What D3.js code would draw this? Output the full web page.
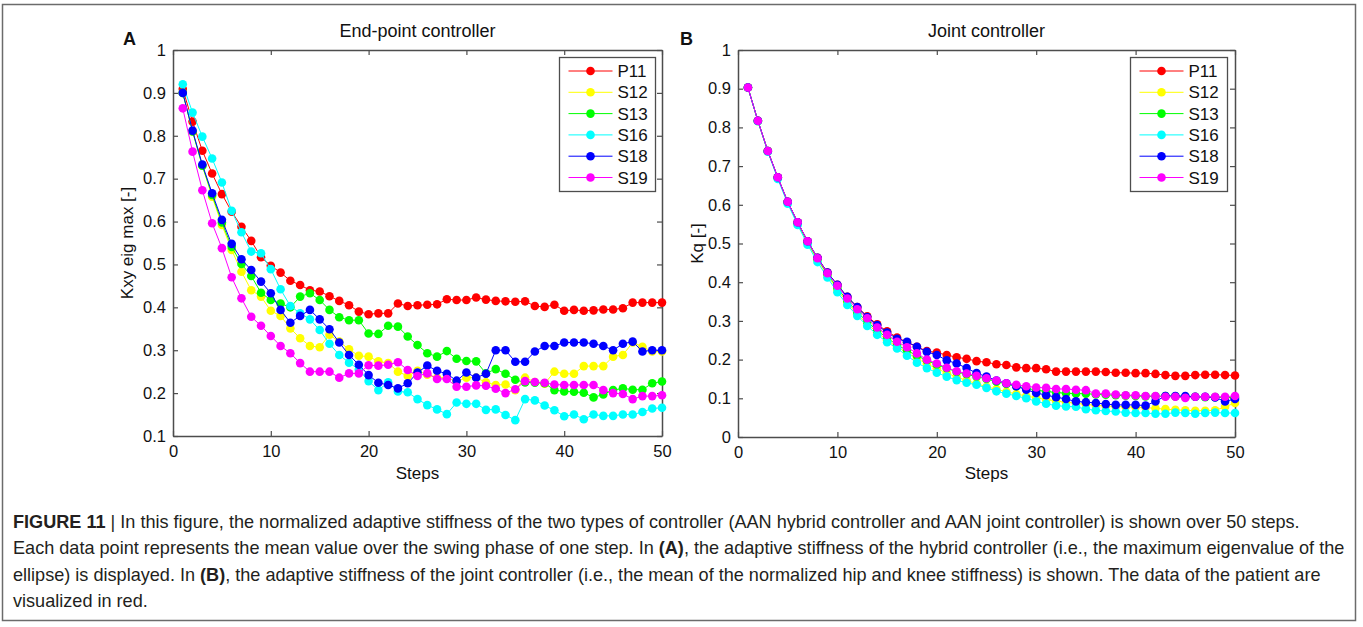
<!DOCTYPE html>
<html>
<head>
<meta charset="utf-8">
<script src="https://cdn.jsdelivr.net/npm/d3@7"></script>
<style>
  html, body { margin: 0; padding: 0; background: #fff; }
  svg { display: block; font-family: "Liberation Sans", Arial, sans-serif; }
</style>
</head>
<body>
<div id="chart" style="width:1363px;height:627px"></div>
<script>
// steps 1..50
const steps = d3.range(1, 51);
const seriesNames = ["P11", "S12", "S13", "S16", "S18", "S19"];
const seriesColors = ["#ff0000", "#ffff00", "#00ff00", "#00ffff", "#0000ff", "#ff00ff"];
const xTicks = [0, 10, 20, 30, 40, 50];
const yTicksA = [0.1, 0.2, 0.3, 0.4, 0.5, 0.6, 0.7, 0.8, 0.9, 1];
const yTicksB = [0, 0.1, 0.2, 0.3, 0.4, 0.5, 0.6, 0.7, 0.8, 0.9, 1];

// Panel A: end-point controller (Kxy eig max)
const kxyP11 = [0.909,0.833,0.765,0.712,0.664,0.623,0.588,0.555,0.517,0.497,0.481,0.462,0.452,0.440,0.437,0.426,0.415,0.405,0.390,0.384,0.386,0.386,0.409,0.403,0.405,0.406,0.407,0.419,0.417,0.417,0.423,0.418,0.415,0.414,0.413,0.414,0.403,0.401,0.406,0.392,0.394,0.392,0.393,0.395,0.395,0.398,0.411,0.411,0.411,0.411];
const kxyS12 = [0.900,0.810,0.730,0.658,0.592,0.534,0.483,0.440,0.425,0.392,0.380,0.351,0.328,0.310,0.307,0.336,0.320,0.302,0.287,0.285,0.274,0.270,0.250,0.240,0.252,0.243,0.236,0.236,0.227,0.236,0.236,0.225,0.219,0.220,0.207,0.236,0.226,0.222,0.250,0.245,0.245,0.263,0.263,0.263,0.285,0.289,0.318,0.308,0.297,0.297];
const kxyS13 = [0.900,0.810,0.730,0.662,0.598,0.541,0.501,0.473,0.434,0.417,0.409,0.400,0.425,0.433,0.417,0.394,0.377,0.370,0.370,0.339,0.338,0.357,0.355,0.332,0.312,0.293,0.285,0.298,0.280,0.275,0.274,0.246,0.256,0.245,0.231,0.225,0.224,0.223,0.207,0.204,0.203,0.201,0.190,0.197,0.207,0.211,0.208,0.208,0.223,0.227];
const kxyS16 = [0.920,0.854,0.798,0.747,0.691,0.625,0.575,0.530,0.526,0.489,0.442,0.403,0.386,0.372,0.347,0.315,0.289,0.271,0.255,0.228,0.207,0.225,0.204,0.202,0.186,0.172,0.162,0.151,0.178,0.175,0.175,0.161,0.162,0.149,0.137,0.186,0.183,0.171,0.160,0.146,0.150,0.139,0.150,0.147,0.147,0.150,0.150,0.156,0.164,0.166];
const kxyS18 = [0.900,0.812,0.733,0.666,0.604,0.548,0.512,0.487,0.460,0.433,0.394,0.364,0.380,0.394,0.372,0.349,0.318,0.289,0.266,0.242,0.224,0.219,0.211,0.223,0.248,0.264,0.252,0.245,0.229,0.248,0.236,0.245,0.300,0.300,0.273,0.273,0.297,0.310,0.310,0.318,0.318,0.318,0.315,0.310,0.300,0.315,0.320,0.297,0.300,0.300];
const kxyS19 = [0.864,0.763,0.673,0.596,0.538,0.470,0.421,0.378,0.357,0.333,0.310,0.293,0.270,0.250,0.250,0.250,0.236,0.246,0.246,0.265,0.264,0.266,0.272,0.254,0.240,0.246,0.233,0.233,0.215,0.215,0.218,0.217,0.210,0.200,0.209,0.228,0.226,0.224,0.220,0.219,0.219,0.219,0.219,0.207,0.200,0.198,0.186,0.193,0.193,0.195];

// Panel B: joint controller (Kq)
const kqP11 = [0.903,0.817,0.739,0.671,0.608,0.555,0.506,0.463,0.425,0.393,0.362,0.336,0.312,0.291,0.273,0.257,0.245,0.233,0.222,0.218,0.212,0.206,0.202,0.196,0.193,0.188,0.186,0.180,0.178,0.178,0.175,0.169,0.169,0.169,0.169,0.169,0.168,0.166,0.166,0.165,0.165,0.163,0.160,0.158,0.158,0.160,0.161,0.161,0.160,0.159];
const kqS12 = [0.903,0.816,0.738,0.669,0.605,0.551,0.501,0.457,0.418,0.380,0.347,0.317,0.292,0.270,0.250,0.233,0.218,0.203,0.189,0.177,0.165,0.155,0.146,0.138,0.130,0.123,0.117,0.111,0.106,0.101,0.097,0.093,0.090,0.087,0.084,0.082,0.080,0.079,0.078,0.077,0.076,0.074,0.072,0.070,0.069,0.068,0.068,0.069,0.078,0.088];
const kqS13 = [0.903,0.817,0.739,0.670,0.607,0.553,0.504,0.460,0.421,0.385,0.352,0.322,0.298,0.275,0.256,0.238,0.224,0.210,0.198,0.187,0.178,0.168,0.162,0.156,0.150,0.143,0.137,0.131,0.126,0.121,0.118,0.115,0.113,0.112,0.112,0.110,0.109,0.108,0.107,0.106,0.105,0.105,0.106,0.105,0.104,0.104,0.103,0.103,0.102,0.102];
const kqS16 = [0.903,0.816,0.737,0.667,0.603,0.548,0.497,0.452,0.412,0.374,0.341,0.313,0.287,0.264,0.245,0.229,0.210,0.192,0.178,0.166,0.156,0.147,0.140,0.135,0.127,0.118,0.112,0.106,0.100,0.092,0.086,0.081,0.079,0.078,0.072,0.069,0.067,0.066,0.063,0.062,0.062,0.060,0.060,0.063,0.062,0.060,0.062,0.063,0.062,0.062];
const kqS18 = [0.903,0.817,0.739,0.671,0.608,0.555,0.506,0.463,0.425,0.393,0.362,0.336,0.310,0.289,0.270,0.254,0.246,0.233,0.220,0.212,0.198,0.190,0.178,0.165,0.156,0.146,0.139,0.131,0.122,0.114,0.108,0.103,0.098,0.092,0.090,0.088,0.085,0.083,0.083,0.083,0.081,0.092,0.106,0.106,0.106,0.104,0.104,0.102,0.092,0.098];
const kqS19 = [0.903,0.817,0.739,0.671,0.608,0.555,0.506,0.462,0.423,0.391,0.358,0.330,0.307,0.283,0.264,0.246,0.232,0.216,0.200,0.190,0.179,0.170,0.164,0.158,0.152,0.146,0.139,0.135,0.131,0.128,0.127,0.124,0.124,0.122,0.121,0.112,0.112,0.110,0.108,0.108,0.106,0.106,0.104,0.104,0.101,0.104,0.104,0.104,0.104,0.106];

const panelA = [kxyP11, kxyS12, kxyS13, kxyS16, kxyS18, kxyS19];
const panelB = [kqP11, kqS12, kqS13, kqS16, kqS18, kqS19];

const W = 1363, H = 627;
const axisColor = "#4d4d4d";
const svg = d3.select("#chart").append("svg")
    .attr("width", W).attr("height", H);

svg.append("rect")
    .attr("x", 2.5).attr("y", 4.5)
    .attr("width", 1353).attr("height", 616)
    .attr("fill", "none").attr("stroke", "#6b6b6b").attr("stroke-width", 1.5);

function drawPanel(cfg) {
    const x = d3.scaleLinear().domain([0, 50]).range([cfg.left, cfg.right]);
    const y = d3.scaleLinear().domain(cfg.yDomain).range([cfg.bottom, cfg.top]);
    const g = svg.append("g");
    const fmt = d => String(+d.toFixed(1));

    // inward ticks on all four sides
    const axes = [
        [d3.axisBottom(x).tickValues(xTicks).tickFormat(fmt), "translate(0," + cfg.bottom + ")"],
        [d3.axisTop(x).tickValues(xTicks).tickFormat(""), "translate(0," + cfg.top + ")"],
        [d3.axisLeft(y).tickValues(cfg.yTicks).tickFormat(fmt), "translate(" + cfg.left + ",0)"],
        [d3.axisRight(y).tickValues(cfg.yTicks).tickFormat(""), "translate(" + cfg.right + ",0)"]
    ];
    axes.forEach(([ax, tr], i) => {
        const a = g.append("g").attr("transform", tr)
            .call(ax.tickSizeInner(-5).tickSizeOuter(0).tickPadding(i < 2 ? 9 : 7));
        a.select(".domain").attr("stroke", axisColor).attr("stroke-width", 1.5);
        a.selectAll(".tick line").attr("stroke", axisColor).attr("stroke-width", 1.2);
        a.selectAll(".tick text").attr("fill", "#111").attr("font-size", 16.5)
            .attr("font-family", "'Liberation Sans', Arial, sans-serif");
    });

    // series
    cfg.data.forEach((vals, s) => {
        const pts = steps.map((st, i) => ({step: st, value: vals[i]}));
        const sg = g.append("g").attr("class", "series-" + seriesNames[s]);
        sg.append("path")
            .datum(pts)
            .attr("fill", "none")
            .attr("stroke", seriesColors[s])
            .attr("stroke-width", 1)
            .attr("d", d3.line().x(d => x(d.step)).y(d => y(d.value)));
        sg.selectAll("circle").data(pts).join("circle")
            .attr("cx", d => x(d.step)).attr("cy", d => y(d.value))
            .attr("r", 4.3).attr("fill", seriesColors[s]);
    });

    // titles and labels
    g.append("text").attr("x", (cfg.left + cfg.right) / 2).attr("y", 37)
        .attr("text-anchor", "middle").attr("font-size", 18).attr("fill", "#111")
        .text(cfg.title);
    g.append("text").attr("x", cfg.letterX).attr("y", 45)
        .attr("font-size", 18).attr("font-weight", "bold").attr("fill", "#111")
        .text(cfg.letter);
    g.append("text").attr("x", (cfg.left + cfg.right) / 2).attr("y", 479)
        .attr("text-anchor", "middle").attr("font-size", 17).attr("fill", "#111")
        .text("Steps");
    g.append("text")
        .attr("transform", "translate(" + cfg.yLabelX + "," + ((cfg.top + cfg.bottom) / 2) + ") rotate(-90)")
        .attr("text-anchor", "middle").attr("font-size", 17).attr("fill", "#111")
        .text(cfg.yLabel);

    // legend
    const lg = g.append("g");
    lg.append("rect")
        .attr("x", cfg.legX).attr("y", 57.5)
        .attr("width", cfg.legW).attr("height", 134)
        .attr("fill", "#fff").attr("stroke", axisColor).attr("stroke-width", 1.3);
    seriesNames.forEach((name, s) => {
        const ly = 71 + s * 21.3;
        lg.append("line")
            .attr("x1", cfg.legX + 9).attr("x2", cfg.legX + 53)
            .attr("y1", ly).attr("y2", ly)
            .attr("stroke", seriesColors[s]).attr("stroke-width", 1);
        lg.append("circle").attr("cx", cfg.legX + 31).attr("cy", ly)
            .attr("r", 4.3).attr("fill", seriesColors[s]);
        lg.append("text").attr("x", cfg.legX + 58).attr("y", ly + 6)
            .attr("font-size", 17).attr("fill", "#111").text(name);
    });
}

drawPanel({
    left: 173, right: 662, top: 50, bottom: 436,
    yDomain: [0.1, 1], yTicks: yTicksA, data: panelA,
    title: "End-point controller", letter: "A", letterX: 123,
    yLabel: "Kxy eig max [-]", yLabelX: 133,
    legX: 559.5, legW: 96
});
drawPanel({
    left: 738, right: 1235, top: 50, bottom: 437,
    yDomain: [0, 1], yTicks: yTicksB, data: panelB,
    title: "Joint controller", letter: "B", letterX: 680,
    yLabel: "Kq [-]", yLabelX: 703,
    legX: 1130.5, legW: 97
});

// caption
const captionLines = [
    [["FIGURE 11", true], [" | In this figure, the normalized adaptive stiffness of the two types of controller (AAN hybrid controller and AAN joint controller) is shown over 50 steps.", false]],
    [["Each data point represents the mean value over the swing phase of one step. In ", false], ["(A)", true], [", the adaptive stiffness of the hybrid controller (i.e., the maximum eigenvalue of the", false]],
    [["ellipse) is displayed. In ", false], ["(B)", true], [", the adaptive stiffness of the joint controller (i.e., the mean of the normalized hip and knee stiffness) is shown. The data of the patient are", false]],
    [["visualized in red.", false]]
];
const capG = svg.append("g")
    .attr("font-family", "'Liberation Sans Narrow', 'Arial Narrow', 'Liberation Sans', sans-serif")
    .attr("fill", "#231f20");
const capTexts = captionLines.map((parts, i) => {
    const t = capG.append("text").attr("x", 13).attr("y", 528 + i * 26.3).attr("font-size", 16);
    parts.forEach(([str, bold]) => {
        t.append("tspan").attr("font-weight", bold ? "bold" : "normal").text(str);
    });
    return t;
});
// fit the widest line to the reference width
const w2 = capTexts[1].node().getComputedTextLength();
const fs = 16 * 1332 / w2;
capTexts.forEach(t => t.attr("font-size", fs));
</script>
</body>
</html>
